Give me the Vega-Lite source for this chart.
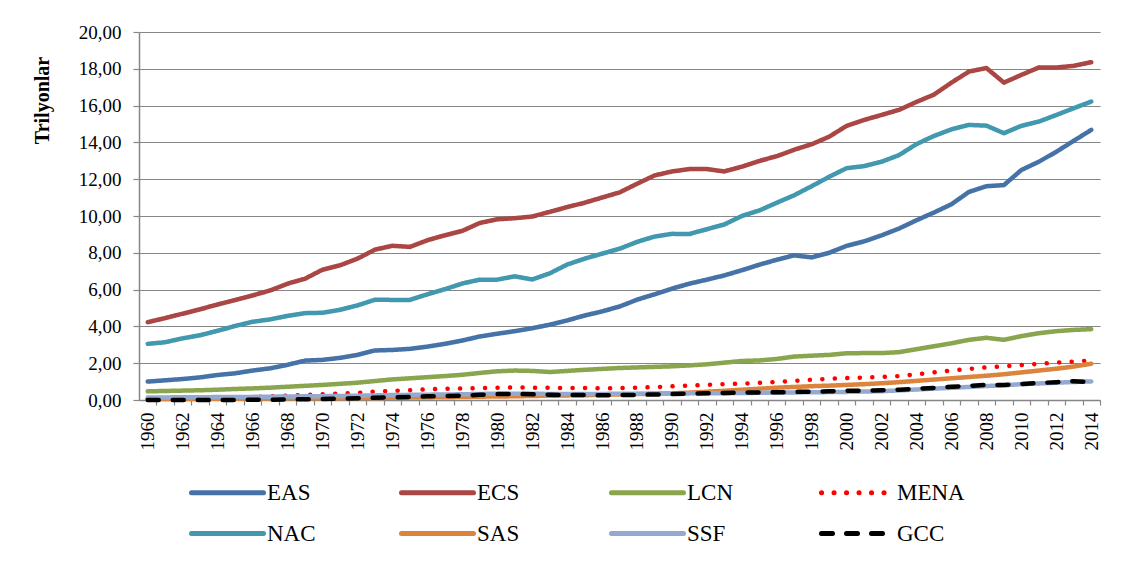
{
  "$schema": "https://vega.github.io/schema/vega-lite/v6.json",
  "width": 961,
  "height": 368,
  "autosize": {"type": "none"},
  "padding": {"left": 139, "top": 32, "right": 26, "bottom": 170},
  "background": "white",
  "config": {
    "font": "Liberation Serif",
    "view": {"stroke": null}
  },
  "data": {
    "values": [
      {"year": 1960, "EAS": 1.00, "ECS": 4.23, "LCN": 0.47, "MENA": 0.07, "NAC": 3.05, "SAS": 0.05, "SSF": 0.14, "GCC": 0.00},
      {"year": 1961, "EAS": 1.07, "ECS": 4.45, "LCN": 0.49, "MENA": 0.08, "NAC": 3.14, "SAS": 0.05, "SSF": 0.14, "GCC": 0.00},
      {"year": 1962, "EAS": 1.14, "ECS": 4.69, "LCN": 0.51, "MENA": 0.09, "NAC": 3.35, "SAS": 0.06, "SSF": 0.15, "GCC": 0.00},
      {"year": 1963, "EAS": 1.23, "ECS": 4.93, "LCN": 0.53, "MENA": 0.10, "NAC": 3.52, "SAS": 0.06, "SSF": 0.15, "GCC": 0.00},
      {"year": 1964, "EAS": 1.36, "ECS": 5.19, "LCN": 0.56, "MENA": 0.12, "NAC": 3.76, "SAS": 0.07, "SSF": 0.16, "GCC": 0.00},
      {"year": 1965, "EAS": 1.45, "ECS": 5.43, "LCN": 0.60, "MENA": 0.14, "NAC": 4.02, "SAS": 0.07, "SSF": 0.16, "GCC": 0.00},
      {"year": 1966, "EAS": 1.60, "ECS": 5.68, "LCN": 0.63, "MENA": 0.16, "NAC": 4.25, "SAS": 0.08, "SSF": 0.17, "GCC": 0.01},
      {"year": 1967, "EAS": 1.72, "ECS": 5.95, "LCN": 0.67, "MENA": 0.19, "NAC": 4.38, "SAS": 0.08, "SSF": 0.18, "GCC": 0.01},
      {"year": 1968, "EAS": 1.91, "ECS": 6.32, "LCN": 0.72, "MENA": 0.24, "NAC": 4.57, "SAS": 0.09, "SSF": 0.19, "GCC": 0.03},
      {"year": 1969, "EAS": 2.14, "ECS": 6.59, "LCN": 0.77, "MENA": 0.28, "NAC": 4.72, "SAS": 0.09, "SSF": 0.20, "GCC": 0.04},
      {"year": 1970, "EAS": 2.18, "ECS": 7.08, "LCN": 0.82, "MENA": 0.31, "NAC": 4.74, "SAS": 0.10, "SSF": 0.21, "GCC": 0.05},
      {"year": 1971, "EAS": 2.29, "ECS": 7.32, "LCN": 0.88, "MENA": 0.35, "NAC": 4.90, "SAS": 0.10, "SSF": 0.22, "GCC": 0.07},
      {"year": 1972, "EAS": 2.45, "ECS": 7.68, "LCN": 0.94, "MENA": 0.39, "NAC": 5.14, "SAS": 0.11, "SSF": 0.23, "GCC": 0.09},
      {"year": 1973, "EAS": 2.69, "ECS": 8.17, "LCN": 1.03, "MENA": 0.45, "NAC": 5.45, "SAS": 0.11, "SSF": 0.25, "GCC": 0.12},
      {"year": 1974, "EAS": 2.72, "ECS": 8.38, "LCN": 1.12, "MENA": 0.50, "NAC": 5.44, "SAS": 0.12, "SSF": 0.27, "GCC": 0.15},
      {"year": 1975, "EAS": 2.78, "ECS": 8.32, "LCN": 1.18, "MENA": 0.53, "NAC": 5.44, "SAS": 0.13, "SSF": 0.28, "GCC": 0.17},
      {"year": 1976, "EAS": 2.90, "ECS": 8.68, "LCN": 1.24, "MENA": 0.58, "NAC": 5.74, "SAS": 0.14, "SSF": 0.29, "GCC": 0.20},
      {"year": 1977, "EAS": 3.05, "ECS": 8.95, "LCN": 1.30, "MENA": 0.61, "NAC": 6.02, "SAS": 0.15, "SSF": 0.30, "GCC": 0.22},
      {"year": 1978, "EAS": 3.23, "ECS": 9.19, "LCN": 1.37, "MENA": 0.63, "NAC": 6.33, "SAS": 0.16, "SSF": 0.31, "GCC": 0.24},
      {"year": 1979, "EAS": 3.45, "ECS": 9.62, "LCN": 1.47, "MENA": 0.65, "NAC": 6.54, "SAS": 0.18, "SSF": 0.33, "GCC": 0.28},
      {"year": 1980, "EAS": 3.60, "ECS": 9.82, "LCN": 1.56, "MENA": 0.67, "NAC": 6.54, "SAS": 0.19, "SSF": 0.34, "GCC": 0.32},
      {"year": 1981, "EAS": 3.74, "ECS": 9.88, "LCN": 1.60, "MENA": 0.68, "NAC": 6.72, "SAS": 0.20, "SSF": 0.34, "GCC": 0.33},
      {"year": 1982, "EAS": 3.90, "ECS": 9.97, "LCN": 1.58, "MENA": 0.67, "NAC": 6.55, "SAS": 0.22, "SSF": 0.34, "GCC": 0.31},
      {"year": 1983, "EAS": 4.09, "ECS": 10.22, "LCN": 1.52, "MENA": 0.66, "NAC": 6.88, "SAS": 0.23, "SSF": 0.33, "GCC": 0.28},
      {"year": 1984, "EAS": 4.32, "ECS": 10.48, "LCN": 1.58, "MENA": 0.65, "NAC": 7.36, "SAS": 0.25, "SSF": 0.33, "GCC": 0.27},
      {"year": 1985, "EAS": 4.59, "ECS": 10.72, "LCN": 1.64, "MENA": 0.65, "NAC": 7.68, "SAS": 0.26, "SSF": 0.33, "GCC": 0.27},
      {"year": 1986, "EAS": 4.81, "ECS": 11.00, "LCN": 1.69, "MENA": 0.64, "NAC": 7.95, "SAS": 0.28, "SSF": 0.33, "GCC": 0.26},
      {"year": 1987, "EAS": 5.08, "ECS": 11.28, "LCN": 1.74, "MENA": 0.65, "NAC": 8.22, "SAS": 0.30, "SSF": 0.34, "GCC": 0.27},
      {"year": 1988, "EAS": 5.45, "ECS": 11.75, "LCN": 1.77, "MENA": 0.67, "NAC": 8.59, "SAS": 0.32, "SSF": 0.34, "GCC": 0.28},
      {"year": 1989, "EAS": 5.74, "ECS": 12.20, "LCN": 1.80, "MENA": 0.70, "NAC": 8.88, "SAS": 0.34, "SSF": 0.35, "GCC": 0.30},
      {"year": 1990, "EAS": 6.05, "ECS": 12.42, "LCN": 1.83, "MENA": 0.74, "NAC": 9.03, "SAS": 0.36, "SSF": 0.36, "GCC": 0.32},
      {"year": 1991, "EAS": 6.32, "ECS": 12.55, "LCN": 1.88, "MENA": 0.78, "NAC": 9.02, "SAS": 0.40, "SSF": 0.36, "GCC": 0.35},
      {"year": 1992, "EAS": 6.54, "ECS": 12.55, "LCN": 1.94, "MENA": 0.82, "NAC": 9.28, "SAS": 0.45, "SSF": 0.37, "GCC": 0.37},
      {"year": 1993, "EAS": 6.77, "ECS": 12.42, "LCN": 2.03, "MENA": 0.86, "NAC": 9.54, "SAS": 0.50, "SSF": 0.37, "GCC": 0.38},
      {"year": 1994, "EAS": 7.05, "ECS": 12.68, "LCN": 2.12, "MENA": 0.89, "NAC": 10.00, "SAS": 0.56, "SSF": 0.38, "GCC": 0.40},
      {"year": 1995, "EAS": 7.35, "ECS": 12.99, "LCN": 2.15, "MENA": 0.93, "NAC": 10.30, "SAS": 0.61, "SSF": 0.39, "GCC": 0.41},
      {"year": 1996, "EAS": 7.62, "ECS": 13.25, "LCN": 2.23, "MENA": 0.98, "NAC": 10.72, "SAS": 0.67, "SSF": 0.40, "GCC": 0.42},
      {"year": 1997, "EAS": 7.86, "ECS": 13.60, "LCN": 2.36, "MENA": 1.04, "NAC": 11.13, "SAS": 0.71, "SSF": 0.41, "GCC": 0.44},
      {"year": 1998, "EAS": 7.75, "ECS": 13.90, "LCN": 2.41, "MENA": 1.10, "NAC": 11.62, "SAS": 0.75, "SSF": 0.42, "GCC": 0.45},
      {"year": 1999, "EAS": 8.00, "ECS": 14.31, "LCN": 2.45, "MENA": 1.15, "NAC": 12.13, "SAS": 0.78, "SSF": 0.43, "GCC": 0.47},
      {"year": 2000, "EAS": 8.38, "ECS": 14.90, "LCN": 2.54, "MENA": 1.19, "NAC": 12.60, "SAS": 0.82, "SSF": 0.44, "GCC": 0.50},
      {"year": 2001, "EAS": 8.62, "ECS": 15.22, "LCN": 2.55, "MENA": 1.22, "NAC": 12.71, "SAS": 0.86, "SSF": 0.46, "GCC": 0.51},
      {"year": 2002, "EAS": 8.95, "ECS": 15.49, "LCN": 2.55, "MENA": 1.25, "NAC": 12.95, "SAS": 0.91, "SSF": 0.48, "GCC": 0.53},
      {"year": 2003, "EAS": 9.32, "ECS": 15.77, "LCN": 2.60, "MENA": 1.30, "NAC": 13.31, "SAS": 0.97, "SSF": 0.52, "GCC": 0.56},
      {"year": 2004, "EAS": 9.77, "ECS": 16.20, "LCN": 2.76, "MENA": 1.40, "NAC": 13.91, "SAS": 1.04, "SSF": 0.57, "GCC": 0.61},
      {"year": 2005, "EAS": 10.19, "ECS": 16.60, "LCN": 2.92, "MENA": 1.50, "NAC": 14.35, "SAS": 1.11, "SSF": 0.62, "GCC": 0.66},
      {"year": 2006, "EAS": 10.64, "ECS": 17.25, "LCN": 3.08, "MENA": 1.60, "NAC": 14.71, "SAS": 1.18, "SSF": 0.66, "GCC": 0.72},
      {"year": 2007, "EAS": 11.31, "ECS": 17.85, "LCN": 3.27, "MENA": 1.69, "NAC": 14.95, "SAS": 1.25, "SSF": 0.71, "GCC": 0.77},
      {"year": 2008, "EAS": 11.62, "ECS": 18.04, "LCN": 3.38, "MENA": 1.77, "NAC": 14.91, "SAS": 1.32, "SSF": 0.76, "GCC": 0.82},
      {"year": 2009, "EAS": 11.68, "ECS": 17.25, "LCN": 3.27, "MENA": 1.83, "NAC": 14.50, "SAS": 1.40, "SSF": 0.80, "GCC": 0.82},
      {"year": 2010, "EAS": 12.50, "ECS": 17.67, "LCN": 3.47, "MENA": 1.90, "NAC": 14.90, "SAS": 1.50, "SSF": 0.86, "GCC": 0.87},
      {"year": 2011, "EAS": 12.95, "ECS": 18.07, "LCN": 3.63, "MENA": 1.96, "NAC": 15.13, "SAS": 1.60, "SSF": 0.90, "GCC": 0.92},
      {"year": 2012, "EAS": 13.49, "ECS": 18.07, "LCN": 3.74, "MENA": 2.03, "NAC": 15.49, "SAS": 1.70, "SSF": 0.94, "GCC": 0.97},
      {"year": 2013, "EAS": 14.09, "ECS": 18.16, "LCN": 3.81, "MENA": 2.09, "NAC": 15.86, "SAS": 1.82, "SSF": 0.98, "GCC": 1.02},
      {"year": 2014, "EAS": 14.68, "ECS": 18.36, "LCN": 3.85, "MENA": 2.15, "NAC": 16.22, "SAS": 1.97, "SSF": 1.01, "GCC": 0.98}
    ]
  },
  "transform": [
    {"fold": ["EAS", "ECS", "LCN", "MENA", "NAC", "SAS", "SSF", "GCC"], "as": ["series", "value"]}
  ],
  "mark": {"type": "line", "strokeWidth": 4.5, "strokeCap": "round", "strokeJoin": "round"},
  "encoding": {
    "x": {
      "field": "year",
      "type": "ordinal",
      "scale": {"type": "point", "padding": 0.5},
      "axis": {
        "title": null,
        "labelAngle": -90,
        "labelFont": "Liberation Serif",
        "labelFontSize": 19,
        "labelColor": "black",
        "labelPadding": 7,
        "labelOverlap": false,
        "labelExpr": "datum.value % 2 == 0 ? datum.label : ''",
        "tickSize": 5,
        "tickColor": "#868686",
        "tickWidth": 1.2,
        "tickOffset": 8.74,
        "labelOffset": -8.74,
        "domainColor": "#868686",
        "domainWidth": 1.5,
        "grid": false
      }
    },
    "y": {
      "field": "value",
      "type": "quantitative",
      "scale": {"domain": [0, 20], "nice": false},
      "axis": {
        "title": "Trilyonlar",
        "titleFont": "Liberation Serif",
        "titleFontSize": 20,
        "titleFontWeight": "bold",
        "titleColor": "black",
        "titleAngle": -90,
        "titleX": -97,
        "titleY": 68,
        "titleAlign": "center",
        "titleBaseline": "middle",
        "values": [0, 2, 4, 6, 8, 10, 12, 14, 16, 18, 20],
        "labelExpr": "replace(format(datum.value, '.2f'), '.', ',')",
        "labelFont": "Liberation Serif",
        "labelFontSize": 19,
        "labelColor": "black",
        "labelPadding": 12,
        "tickSize": 6,
        "tickColor": "#868686",
        "tickWidth": 1.2,
        "domainColor": "#868686",
        "domainWidth": 1.5,
        "grid": true,
        "gridColor": "#868686",
        "gridWidth": 1.2
      }
    },
    "color": {
      "field": "series",
      "type": "nominal",
      "scale": {
        "domain": ["EAS", "ECS", "LCN", "MENA", "NAC", "SAS", "SSF", "GCC"],
        "range": ["#4572A7", "#AA4643", "#89A54E", "#FF0000", "#4198AF", "#DB843D", "#93A9CF", "#000000"]
      },
      "legend": {
        "title": null,
        "orient": "none",
        "legendX": 50,
        "legendY": 446,
        "direction": "horizontal",
        "columns": 4,
        "gridAlign": "all",
        "columnPadding": 56,
        "rowPadding": 14,
        "symbolType": "M-1,0L5,0",
        "symbolSize": 576,
        "symbolStrokeWidth": 5,
        "symbolFillColor": "transparent",
        "labelFont": "Liberation Serif",
        "labelFontSize": 23,
        "labelColor": "black",
        "labelOffset": 49,
        "labelLimit": 200,
        "encode": {"symbols": {"update": {"strokeCap": {"value": "round"}, "fill": {"value": "transparent"}}}}
      }
    },
    "strokeDash": {
      "field": "series",
      "type": "nominal",
      "scale": {
        "domain": ["EAS", "ECS", "LCN", "MENA", "NAC", "SAS", "SSF", "GCC"],
        "range": [[1, 0], [1, 0], [1, 0], [0.1, 12.4], [1, 0], [1, 0], [1, 0], [11, 14]]
      }
    }
  }
}
